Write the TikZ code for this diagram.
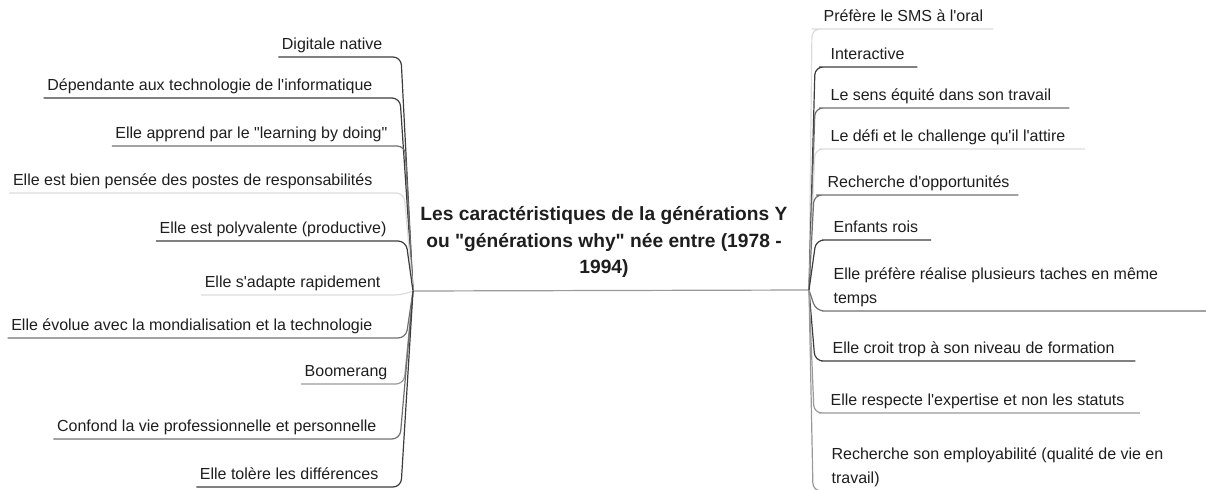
\documentclass[tikz,border=0pt]{standalone}
\usepackage{fontspec}
\newfontfamily\mapfont{Liberation Sans}

\definecolor{inkdark}{HTML}{3C3C3C}
\definecolor{inkmid}{HTML}{707070}
\definecolor{inksoft}{HTML}{9A9A9A}
\definecolor{inkpale}{HTML}{DCDCDC}
\definecolor{inktext}{HTML}{1E1E1E}

\begin{document}
\begin{tikzpicture}[x=0.75pt,y=-0.75pt,line width=0.9pt,rounded corners=6pt,
  leaf/.style={inner xsep=2.25pt,inner ysep=0pt,text=inktext,
    font=\mapfont\fontsize{12}{18}\selectfont,
    execute at end node={\rule[-5.25pt]{0pt}{5.25pt}}},
  left leaf/.style={leaf,anchor=south east},
  right leaf/.style={leaf,anchor=south west,align=left},
  topic/.style={text=inktext,align=center,
    font=\mapfont\bfseries\fontsize{14.4}{19.9}\selectfont}]

  \useasboundingbox (0,0) rectangle (1206,489);

  % central topic and the two hubs
  \node[topic] (topic) at (604,242)
    {Les caractéristiques de la générations Y\\
     ou "générations why" née entre (1978 -\\1994)};
  \coordinate (hubL) at (413,291);
  \coordinate (hubR) at (809,290);
  \draw[inksoft] (hubL) -- (hubR);

  % left side
  \node[left leaf] (digital) at (386,57) {Digitale native};
  \node[left leaf] (depend) at (376,98) {Dépendante aux technologie de l'informatique};
  \node[left leaf] (learn) at (391,146) {Elle apprend par le "learning by doing"};
  \node[left leaf] (posts) at (376,193) {Elle est bien pensée des postes de responsabilités};
  \node[left leaf] (versatile) at (390,241) {Elle est polyvalente (productive)};
  \node[left leaf] (adapt) at (384,295) {Elle s'adapte rapidement};
  \node[left leaf] (evolve) at (376,338) {Elle évolue avec la mondialisation et la technologie};
  \node[left leaf] (boomerang) at (391,384) {Boomerang};
  \node[left leaf] (confuse) at (380,439) {Confond la vie professionnelle et personnelle};
  \node[left leaf] (tolerate) at (382,487) {Elle tolère les différences};

  \draw[inkdark] (hubL) -- (401,57) -- (digital.south west);
  \draw[inkdark] (hubL) -- (400,98) -- (depend.south west);
  \draw[inkmid]  (hubL) -- (405,146) -- (learn.south west);
  \draw[inkpale] (hubL) -- (404,193) -- (posts.south west);
  \draw[inkdark] (hubL) -- (406,241) -- (versatile.south west);
  \draw[inkpale] (hubL) -- (402,295) -- (adapt.south west);
  \draw[inkmid]  (hubL) -- (406,338) -- (evolve.south west);
  \draw[inksoft] (hubL) -- (404,384) -- (boomerang.south west);
  \draw[inkmid]  (hubL) -- (400,439) -- (confuse.south west);
  \draw[inkdark] (hubL) -- (401,487) -- (tolerate.south west);

  % right side
  \node[right leaf] (sms) at (820,29) {Préfère le SMS à l'oral};
  \node[right leaf] (interact) at (827,67) {Interactive};
  \node[right leaf] (equity) at (827,108) {Le sens équité dans son travail};
  \node[right leaf] (challenge) at (827,149) {Le défi et le challenge qu'il l'attire};
  \node[right leaf] (chances) at (824,195) {Recherche d'opportunités};
  \node[right leaf] (kings) at (830,240) {Enfants rois};
  \node[right leaf] (multitask) at (830,311)
    {Elle préfère réalise plusieurs taches en même\\temps};
  \node[right leaf] (training) at (829,361) {Elle croit trop à son niveau de formation};
  \node[right leaf] (expertise) at (827,413) {Elle respecte l'expertise et non les statuts};
  \node[right leaf] (employ) at (828,491)
    {Recherche son employabilité (qualité de vie en\\travail)};

  \draw[inkpale] (hubR) -- (812,29) -- (sms.south west) -- ([xshift=5]sms.south east);
  \draw[inkdark] (hubR) -- (815,67) -- (interact.south west) -- ([xshift=7]interact.south east);
  \draw[inkmid]  (hubR) -- (815,108) -- (equity.south west) -- ([xshift=11]equity.south east);
  \draw[inkpale] (hubR) -- (815,149) -- (challenge.south west) -- ([xshift=12]challenge.south east);
  \draw[inkmid]  (hubR) -- (814,195) -- (chances.south west) -- ([xshift=4]chances.south east);
  \draw[inkdark] (hubR) -- (816,240) -- (kings.south west) -- ([xshift=7]kings.south east);
  \draw[inkmid]  (hubR) -- (816,311) -- (multitask.south west) -- ([xshift=46]multitask.south east);
  \draw[inkdark] (hubR) -- (815,361) -- (training.south west) -- ([xshift=13]training.south east);
  \draw[inksoft] (hubR) -- (814,413) -- (expertise.south west) -- ([xshift=9]expertise.south east);
  \draw[inksoft] (hubR) -- (813,491) -- (employ.south west) -- ([xshift=8]employ.south east);

\end{tikzpicture}
\end{document}
